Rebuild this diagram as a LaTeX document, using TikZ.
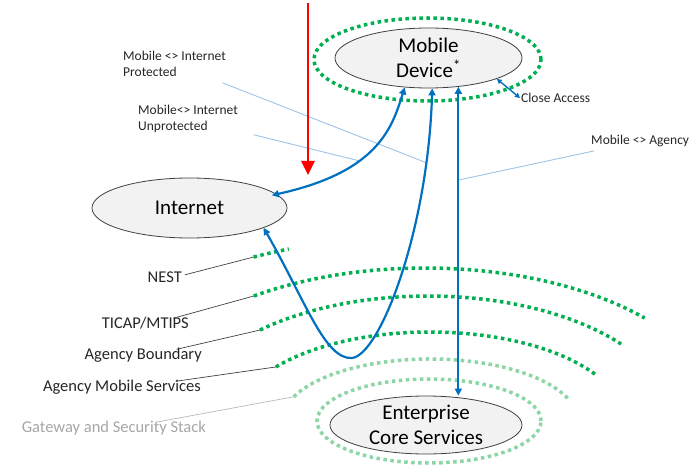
\documentclass[tikz,border=0pt]{standalone}
\usepackage{fontspec}
\setmainfont{Carlito}
\usetikzlibrary{arrows.meta,shapes.geometric,calc}
\pgfdeclarelayer{background}
\pgfsetlayers{background,main}

\definecolor{ringgreen}{RGB}{0,176,80}
\definecolor{palegreen}{RGB}{140,214,166}
\definecolor{linkblue}{RGB}{0,112,192}
\definecolor{leaderblue}{RGB}{157,195,230}
\definecolor{bubblefill}{RGB}{242,242,242}
\definecolor{bubbleline}{RGB}{64,64,64}
\definecolor{inkgray}{RGB}{38,38,38}
\definecolor{stackgray}{RGB}{166,166,166}
\definecolor{alertred}{RGB}{255,0,0}

\begin{document}
\begin{tikzpicture}[x=1pt,y=1pt,
  bubble/.style={ellipse, draw=bubbleline, line width=0.8pt, fill=bubblefill,
    inner sep=0pt, align=center, text=black, font=\fontsize{21}{25}\selectfont},
  ring/.style={draw=ringgreen, line width=3.5pt, dash pattern=on 3.5pt off 3.5pt},
  palering/.style={ring, draw=palegreen},
  link/.style={draw=linkblue, line width=2.2pt, {Triangle[length=7pt,width=7pt]}-{Triangle[length=7pt,width=7pt]}},
  closelink/.style={draw=linkblue, line width=1.4pt, {Triangle[length=5pt,width=5pt]}-{Triangle[length=5pt,width=5pt]}},
  layerlabel/.style={anchor=east, inner sep=3pt, text=inkgray, text height=0.7em, text depth=0.2em,
    font=\fontsize{16.5}{20}\selectfont},
  smalllabel/.style={anchor=west, inner sep=3pt, align=left, text=inkgray,
    font=\fontsize{13.5}{16}\selectfont},
  grayleader/.style={draw=bubbleline, line width=0.7pt},
  blueleader/.style={draw=leaderblue, line width=0.9pt},
  alert/.style={draw=alertred, line width=2.6pt, -{Triangle[length=14pt,width=13pt]}}
]
\path[use as bounding box] (0,0) rectangle (692,469);

% protection rings around the device and the core services
\draw[ring] (427.5,409.5) ellipse[x radius=113.5, y radius=41.5];
\draw[palering] (429,48) ellipse[x radius=112, y radius=42];

% concentric boundary layers
\draw[ring] (425,48) ++(117.6:370 and 185) coordinate (nestL)
  arc[start angle=117.6, end angle=111.6, x radius=370, y radius=185];
\draw[ring] (425,48) ++(125.2:297 and 153) coordinate (ticapL)
  arc[start angle=125.2, end angle=42.3, x radius=297, y radius=153];
\draw[ring] (428,48) ++(133.3:245 and 125) coordinate (boundL)
  arc[start angle=133.3, end angle=38, x radius=245, y radius=125];
\draw[ring] (430,48) ++(142.6:194 and 89) coordinate (amsL)
  arc[start angle=142.6, end angle=31.1, x radius=194, y radius=89];
\draw[palering] (430,48) ++(157:148 and 62) coordinate (gwL)
  arc[start angle=157, end angle=20, x radius=148, y radius=62];

% main entities
\node[bubble, minimum width=187, minimum height=60] (mob) at (428.5,411) {Mobile\\Device\textsuperscript{*}};
\node[bubble, minimum width=195, minimum height=60] (inet) at (189.5,261) {Internet};
\node[bubble, minimum width=192, minimum height=58] (ent) at (426,44) {Enterprise\\Core Services};

% layer labels
\node[layerlabel] (nest) at (185,189) {NEST};
\node[layerlabel] (ticap) at (192,143) {TICAP/MTIPS};
\node[layerlabel] (bound) at (205,112) {Agency Boundary};
\node[layerlabel] (ams) at (204,80) {Agency Mobile Services};
\node[layerlabel, text=stackgray] (gw) at (209,39) {Gateway and Security Stack};

\draw[grayleader] (nest) -- (nestL);
\draw[grayleader] (ticap) -- (ticapL);
\draw[grayleader] (bound) -- (boundL);
\draw[grayleader] (ams) -- (amsL);
\draw[grayleader, draw=stackgray!80] (gw) -- (gwL);

% path labels
\node[smalllabel] (prot) at (120,405) {Mobile <> Internet\\Protected};
\node[smalllabel] (unprot) at (135,350.5) {Mobile<> Internet\\Unprotected};
\node[smalllabel, inner sep=1pt] (close) at (520,371) {Close Access};
\node[smalllabel] (agency) at (588,328) {Mobile <> Agency};

% connections
\draw[link, shorten >=-5pt] (mob.231) .. controls (392,341) and (378,297) .. (inet.9)
  coordinate[pos=0.62] (unprotEnd);
\draw[link] (inet.-15.4) .. controls (305,169) and (325,109) .. (352,111)
  .. controls (380,114) and (428,239) .. (mob.277) coordinate[pos=0.82] (protEnd);
\draw[link] (mob.316) -- (mob.316 |- ent.north) coordinate[pos=0.302] (agEnd);
\draw[closelink] (mob.343) -- (close.west);

\begin{pgfonlayer}{background}
\draw[blueleader, shorten <=8pt] (prot) -- (protEnd);
\draw[blueleader, shorten <=13pt] (unprot) -- (unprotEnd);
\draw[blueleader, shorten <=4pt] (agency) -- (agEnd);
\end{pgfonlayer}

% external threat marker
\coordinate (redTop) at (308,466);
\coordinate (redTip) at (308,294);
\draw[alert] (redTop) -- (redTip);
\end{tikzpicture}
\end{document}
